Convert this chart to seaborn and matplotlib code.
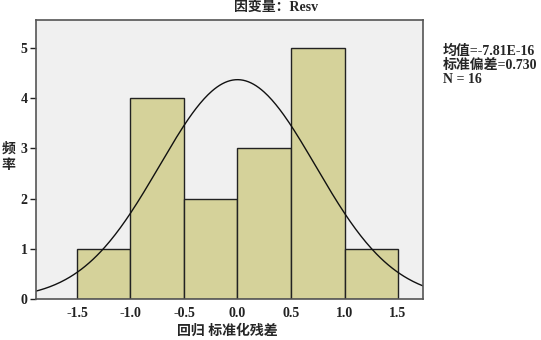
import numpy as np
import pandas as pd
import matplotlib
matplotlib.use("Agg")
import matplotlib.pyplot as plt
import seaborn as sns

bin_edges = [-1.5, -1.0, -0.5, 0.0, 0.5, 1.0, 1.5]
counts = [1, 4, 2, 3, 5, 1]
mean_val = -7.81e-16
std_val = 0.730
n_obs = 16

sns.set_theme(style="white")
plt.rcParams['font.family'] = ['Liberation Serif', 'Noto Sans CJK SC', 'DejaVu Sans']
plt.rcParams['font.weight'] = 'bold'

centers = [(bin_edges[i] + bin_edges[i + 1]) / 2 for i in range(len(counts))]
df = pd.DataFrame({"resid": centers, "count": counts})

fig = plt.figure(figsize=(5.41, 3.40), dpi=100)
ax = fig.add_axes([0.0665, 0.1206, 0.7155, 0.8204])
ax.set_facecolor("#f0f0f0")

sns.histplot(data=df, x="resid", weights="count", bins=bin_edges, ax=ax,
             color="#d5d29a", edgecolor="#222222", linewidth=1.0, alpha=1.0)

# fitted normal curve from the reported mean / sd
xs = np.linspace(-1.9, 1.75, 300)
width = bin_edges[1] - bin_edges[0]
ys = n_obs * width / (std_val * np.sqrt(2 * np.pi)) * np.exp(-0.5 * ((xs - mean_val) / std_val) ** 2)
sns.lineplot(x=xs, y=ys, ax=ax, color="#111111", linewidth=1.0)

ax.set_xlim(-1.883, 1.734)
ax.set_ylim(0, 5.56)
ax.set_xticks([-1.5, -1.0, -0.5, 0.0, 0.5, 1.0, 1.5])
ax.set_xticklabels(["-1.5", "-1.0", "-0.5", "0.0", "0.5", "1.0", "1.5"])
ax.set_yticks([0, 1, 2, 3, 4, 5])
ax.tick_params(axis="both", direction="out", length=4, width=1, labelsize=10, colors="#222222", pad=2)
ax.tick_params(axis="x", length=0, pad=6)
ax.tick_params(axis="y", left=True)
for s in ax.spines.values():
    s.set_color("#555555")
    s.set_linewidth(1.2)
ax.set_xlabel("")
ax.set_ylabel("")

fig.text(0.51, 0.975, "因变量：Resv", ha="center", va="center", fontsize=10, fontweight="bold")
fig.text(0.42, 0.025, "回归 标准化残差", ha="center", va="center", fontsize=10, fontweight="bold")
fig.text(0.016, 0.538, "频\n率", ha="center", va="center", fontsize=10, fontweight="bold", linespacing=1.4)
fig.text(0.819, 0.868, "均值=-7.81E-16\n标准偏差=0.730\nN = 16", ha="left", va="top",
         fontsize=10, fontweight="bold", linespacing=1.1)

fig.savefig("out.png", dpi=100)
